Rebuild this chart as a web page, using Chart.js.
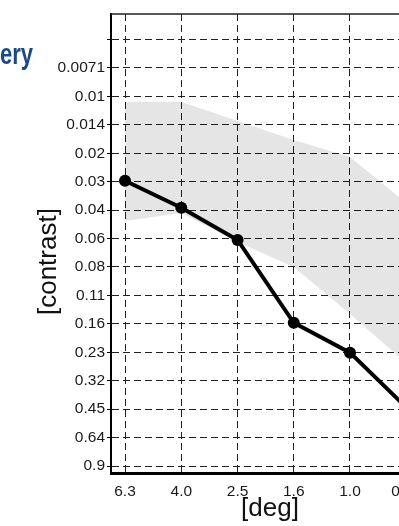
<!DOCTYPE html>
<html>
<head>
<meta charset="utf-8">
<script src="https://cdn.jsdelivr.net/npm/chart.js@4.4.1/dist/chart.umd.min.js"></script>
<style>
  html, body { margin: 0; padding: 0; background: #fff; overflow: hidden; }
  #wrap { position: relative; width: 450px; height: 526px; }
  .heading {
    position: absolute; left: 0; top: 40px;
    font: bold 29px/28px "Liberation Sans", Arial, sans-serif;
    color: #1b4a86;
    transform: scaleX(0.76);
    transform-origin: 0 0;
  }
</style>
</head>
<body>
<div id="wrap">
  <div class="heading">ery</div>
  <canvas id="myChart" width="450" height="526"></canvas>
</div>
<script>
// axis ticks (log scales, both reversed)
const degTicks = [6.31, 3.98, 2.51, 1.585, 1.0, 0.631];
const degLabels = ["6.3", "4.0", "2.5", "1.6", "1.0", "0.63"];
const contrastTicks = [0.00497, 0.00703, 0.00994, 0.01406, 0.0199, 0.0281, 0.0398, 0.05625,
  0.0795, 0.1125, 0.1591, 0.225, 0.3182, 0.45, 0.6364, 0.9];
const contrastLabels = ["", "0.0071", "0.01", "0.014", "0.02", "0.03", "0.04", "0.06",
  "0.08", "0.11", "0.16", "0.23", "0.32", "0.45", "0.64", "0.9"];

// measured thresholds and the grey reference band
const thresholds = [0.0278, 0.0386, 0.0572, 0.157, 0.226, 0.44];
const bandTop = [0.0106, 0.0106, 0.0134, 0.0169, 0.0208, 0.0365];
const bandBottom = [0.0454, 0.0412, 0.0586, 0.0795, 0.141, 0.257];

const toPoints = (vals) => vals.map((v, i) => ({ x: degTicks[i], y: v }));

Chart.defaults.font.family = "'Liberation Sans', Arial, sans-serif";

const topBorder = {
  id: "topBorder",
  afterDraw(chart) {
    const { ctx, chartArea } = chart;
    ctx.save();
    ctx.strokeStyle = "#222";
    ctx.lineWidth = 1.5;
    ctx.beginPath();
    ctx.moveTo(chartArea.left, chartArea.top);
    ctx.lineTo(chartArea.right, chartArea.top);
    ctx.stroke();
    ctx.restore();
  }
};

const ctx = document.getElementById("myChart").getContext("2d");
const chart = new Chart(ctx, {
  type: "line",
  data: {
    datasets: [
      {
        label: "threshold",
        data: toPoints(thresholds),
        borderColor: "#000",
        borderWidth: 4,
        pointRadius: 6,
        pointBackgroundColor: "#000",
        pointBorderWidth: 0,
        tension: 0,
        fill: false
      },
      {
        label: "band top",
        data: toPoints(bandTop),
        borderColor: "transparent",
        borderWidth: 0,
        pointRadius: 0,
        tension: 0,
        fill: false
      },
      {
        label: "band bottom",
        data: toPoints(bandBottom),
        borderColor: "transparent",
        borderWidth: 0,
        pointRadius: 0,
        tension: 0,
        fill: "-1",
        backgroundColor: "rgba(0,0,0,0.1)"
      }
    ]
  },
  options: {
    responsive: false,
    animation: false,
    events: [],
    layout: { padding: { top: 14, right: 21, bottom: 0, left: 0 } },
    plugins: { legend: { display: false }, tooltip: { enabled: false } },
    scales: {
      x: {
        type: "logarithmic",
        reverse: true,
        min: 0.5237,
        max: 7.077,
        afterBuildTicks: (s) => { s.ticks = degTicks.map((v) => ({ value: v })); },
        afterFit: (s) => { s.height = 53; },
        ticks: {
          autoSkip: false,
          maxRotation: 0,
          callback: (v, i) => degLabels[i],
          font: { size: 15.5 },
          color: "#1a1a1a",
          padding: 9
        },
        grid: { color: "#222", drawTicks: false },
        border: { dash: [7, 4], color: "#000", width: 3 },
        title: {
          display: true,
          text: "[deg]",
          color: "#111",
          font: { size: 26, lineHeight: 1 },
          padding: { top: 0, bottom: 4 }
        }
      },
      y: {
        type: "logarithmic",
        reverse: true,
        min: 0.00364,
        max: 0.98,
        afterBuildTicks: (s) => { s.ticks = contrastTicks.map((v) => ({ value: v })); },
        afterFit: (s) => { s.width = 111; },
        ticks: {
          autoSkip: false,
          callback: (v, i) => contrastLabels[i],
          font: { size: 15.5 },
          color: "#1a1a1a",
          padding: 2
        },
        grid: { color: "#222", tickLength: 4, tickColor: "#000", tickBorderDash: [] },
        border: { dash: [7, 4], color: "#000", width: 2 },
        title: {
          display: true,
          text: "[contrast]     ",
          color: "#111",
          font: { size: 26, lineHeight: 1 },
          padding: { top: 36, bottom: 0 }
        }
      }
    }
  },
  plugins: [topBorder]
});
</script>
</body>
</html>
